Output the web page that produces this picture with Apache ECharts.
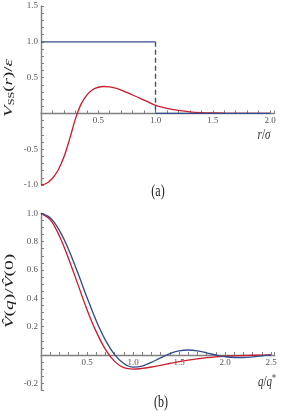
<!DOCTYPE html>
<html><head><meta charset="utf-8">
<script src="https://cdn.jsdelivr.net/npm/echarts@6/dist/echarts.min.js"></script>
<style>html,body{margin:0;padding:0;background:#fff}#c{width:284px;height:411px}</style>
</head><body><div id="c"></div>
<script>
// ---- Panel (a): potential V_SS(r)/epsilon vs r/sigma
const rA = [0,0.05,0.1,0.15,0.2,0.25,0.3,0.35,0.4,0.45,0.5,0.55,0.6,0.65,0.7,0.75,0.8,0.85,0.9,0.95,1.0,1.1,1.2,1.3,1.4,1.5,1.6,1.7,1.8,1.9,2.0];
const redA = [-1.0,-0.975,-0.905,-0.79,-0.61,-0.36,-0.08,0.13,0.255,0.33,0.365,0.376,0.37,0.352,0.325,0.292,0.257,0.222,0.186,0.148,0.112,0.07,0.042,0.022,0.011,0.005,0.002,0.001,0,0,0];
// step (hard-core) potential: height 1 up to r = 1, zero beyond
const stepR = [0, 1, 1, 2];
const stepV = [1, 1, 0, 0];
const aXTicks = [0.5, 1.0, 1.5, 2.0];
const aYTicks = [-1.0, -0.5, 0.5, 1.0, 1.5];

// ---- Panel (b): normalised Fourier transforms vs q/q*
const qB = [0,0.1,0.2,0.3,0.4,0.5,0.6,0.7,0.8,0.9,1.0,1.1,1.2,1.3,1.4,1.5,1.6,1.7,1.8,1.9,2.0,2.1,2.2,2.3,2.4,2.5];
const redB = [1.0,0.955,0.84,0.68,0.5,0.32,0.165,0.04,-0.045,-0.09,-0.1,-0.095,-0.085,-0.073,-0.06,-0.047,-0.036,-0.027,-0.019,-0.013,-0.009,-0.006,-0.004,-0.002,-0.001,0];
const blueB = [1.0,0.969,0.88,0.745,0.58,0.406,0.242,0.105,0.003,-0.06,-0.086,-0.078,-0.052,-0.02,0.01,0.029,0.035,0.029,0.015,0.0,-0.012,-0.018,-0.018,-0.013,-0.006,0.001];
const bXTicks = [0.5, 1.0, 1.5, 2.0, 2.5];
const bYTicks = [-0.2, 0.2, 0.4, 0.6, 0.8, 1.0];

const RED = '#cc1f2e', BLUE = '#344d8c', GRAY = '#808080', LBL = '#555';
const SERIF = '"Liberation Serif","DejaVu Serif",serif';

function fmt(list){ return v => { for (const t of list) if (Math.abs(v - t) < 1e-6) return t.toFixed(1); return ''; }; }
function xAx(grid, max, ticks, off){ return {
  type:'value', gridIndex:grid, min:0, max:max, interval:0.1, position:'bottom', offset:off,
  axisLine:{onZero:false, lineStyle:{color:GRAY, width:1.4}},
  axisTick:{inside:true, length:3, lineStyle:{color:GRAY, width:1}},
  axisLabel:{formatter:fmt(ticks), margin:3, fontSize:9, fontFamily:SERIF, color:LBL},
  splitLine:{show:false}
};}
function yAx(grid, min, max, iv, ticks){ return {
  type:'value', gridIndex:grid, min:min, max:max, interval:iv, position:'left',
  axisLine:{show:true, onZero:false, lineStyle:{color:GRAY, width:1.4}},
  axisTick:{show:true, inside:true, length:3, lineStyle:{color:GRAY, width:1}},
  axisLabel:{formatter:fmt(ticks), margin:3, fontSize:9, fontFamily:SERIF, color:LBL},
  splitLine:{show:false}
};}
function pairs(xs, ys){ return xs.map((x,i)=>[x, ys[i]]); }
function line(xi, data, color, extra){ return Object.assign({
  type:'line', xAxisIndex:xi, yAxisIndex:xi, data:data, showSymbol:false, symbol:'none',
  lineStyle:{color:color, width:1.35}, itemStyle:{color:color}, animation:false, z:3
}, extra||{});}

// grid geometry (pixels)
const gA = {left:41, top:6, width:233.6, height:179};
const gB = {left:41, top:213.3, width:233.7, height:177.1};
// move the x axis up to the y = 0 line of each panel
const offA = -gA.height * (0 - (-1.0)) / (1.5 - (-1.0));
const offB = -gB.height * (0 - (-0.25)) / (1.0 - (-0.25));

const chart = echarts.init(document.getElementById('c'));
chart.setOption({
  animation:false,
  backgroundColor:'#fff',
  grid:[gA, gB],
  xAxis:[ xAx(0, 2.04, aXTicks, offA), xAx(1, 2.54, bXTicks, offB) ],
  yAxis:[ yAx(0, -1.0, 1.5, 0.1, aYTicks), yAx(1, -0.25, 1.0, 0.05, bYTicks) ],
  series:[
    line(0, pairs(rA, redA), RED, {smooth:0.35}),
    line(0, pairs(stepR.slice(0,2), stepV.slice(0,2)), BLUE),
    line(0, pairs(stepR.slice(1,3), stepV.slice(1,3)), BLUE, {lineStyle:{color:BLUE, width:1.35, type:[5,3]}}),
    line(0, pairs(stepR.slice(2,4), stepV.slice(2,4)), BLUE),
    line(1, pairs(qB, redB), RED, {smooth:0.35}),
    line(1, pairs(qB, blueB), BLUE, {smooth:0.35})
  ],
  graphic:[
    {type:'text', x:9, y:88, rotation:Math.PI/2, scaleX:1.45, style:{
      text:'{v|V}{s|SS}{n|(}{i|r}{n|)/}{i|ε}', align:'center', verticalAlign:'middle',
      rich:{
        v:{fontFamily:SERIF, fontStyle:'italic', fontSize:13, fill:'#222'},
        s:{fontFamily:SERIF, fontSize:8.5, fill:'#222', padding:[6,0,0,0]},
        n:{fontFamily:SERIF, fontSize:13, fill:'#222'},
        i:{fontFamily:SERIF, fontStyle:'italic', fontSize:13, fill:'#222'}
      }}},
    {type:'text', x:10, y:291, rotation:Math.PI/2, scaleX:1.5, style:{
      text:'{v|V\u0302}{n|(}{i|q}{n|)/}{v|V\u0302}{n|(0)}', align:'center', verticalAlign:'middle',
      rich:{
        v:{fontFamily:SERIF, fontStyle:'italic', fontSize:13, fill:'#222'},
        n:{fontFamily:SERIF, fontSize:13, fill:'#222'},
        i:{fontFamily:SERIF, fontStyle:'italic', fontSize:13, fill:'#222'}
      }}},
    {type:'text', x:264, y:135, scaleY:1.3, style:{
      text:'{i|r}{n|/}{i|σ}', align:'center', verticalAlign:'middle',
      rich:{
        n:{fontFamily:SERIF, fontSize:11, fill:'#333'},
        i:{fontFamily:SERIF, fontStyle:'italic', fontSize:11, fill:'#333'}
      }}},
    {type:'text', x:267, y:382, scaleY:1.3, style:{
      text:'{i|q}{n|/}{i|q}{s|*}', align:'center', verticalAlign:'middle',
      rich:{
        n:{fontFamily:SERIF, fontSize:11, fill:'#333'},
        i:{fontFamily:SERIF, fontStyle:'italic', fontSize:11, fill:'#333'},
        s:{fontFamily:SERIF, fontSize:8, fill:'#333', padding:[0,0,6,0]}
      }}},
    {type:'text', x:158, y:192, scaleY:1.35, style:{
      text:'(a)', font:'12px ' + SERIF, fill:'#222', align:'center', verticalAlign:'middle'}},
    {type:'text', x:161, y:403, scaleY:1.35, style:{
      text:'(b)', font:'12px ' + SERIF, fill:'#222', align:'center', verticalAlign:'middle'}}
  ]
});
</script></body></html>
